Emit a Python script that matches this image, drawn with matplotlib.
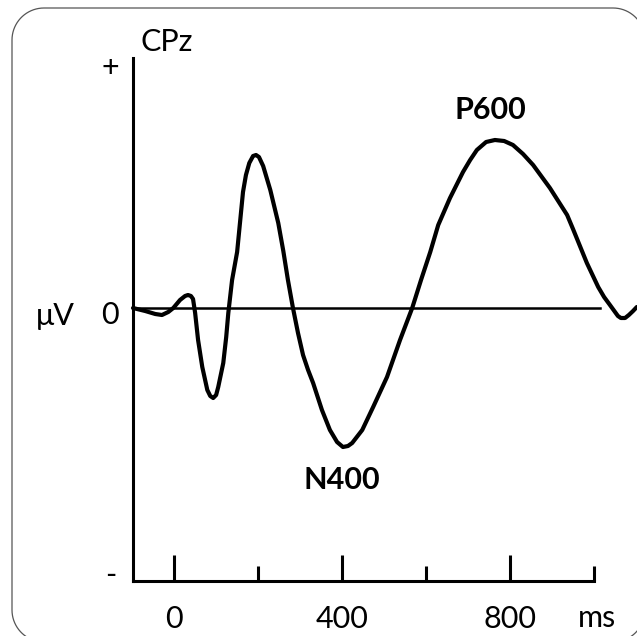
import matplotlib.pyplot as plt
import numpy as np
from matplotlib.lines import Line2D
from matplotlib.transforms import IdentityTransform

# ERP waveform at CPz (ms, microvolts)
time_ms = [-98, -69, -45, -29, -14, -2, 14, 26, 33, 40, 45, 50, 57, 67, 79, 86, 93,
           100, 105, 117, 124, 129, 138, 150, 157, 164, 171, 179, 188, 195, 202,
           212, 229, 248, 260, 271, 283, 295, 307, 319, 331, 352, 371, 388, 402,
           414, 424, 448, 474, 507, 538, 567, 588, 610, 629, 657, 688, 705, 721,
           743, 764, 786, 807, 831, 855, 895, 936, 950, 983, 1010, 1024, 1038,
           1057, 1064, 1074, 1083, 1093, 1102]
amp_uv = [0, -0.12, -0.24, -0.28, -0.16, 0, 0.32, 0.48, 0.52, 0.48, 0.36, -0.2,
          -1.28, -2.36, -3.28, -3.52, -3.6, -3.48, -3.16, -2.2, -1.16, -0.2, 1.12,
          2.24, 3.44, 4.64, 5.32, 5.8, 6.08, 6.12, 6.04, 5.68, 4.72, 3.4, 2.28,
          1.12, 0, -1.0, -1.88, -2.48, -3.0, -4.08, -4.88, -5.36, -5.56, -5.52,
          -5.4, -4.88, -3.96, -2.76, -1.28, 0, 1.12, 2.24, 3.32, 4.4, 5.44, 5.92,
          6.32, 6.64, 6.72, 6.68, 6.52, 6.16, 5.72, 4.8, 3.72, 3.16, 1.8, 0.84,
          0.44, 0.12, -0.32, -0.4, -0.4, -0.28, -0.12, 0.04]
major_ticks = [0, 400, 800]
major_labels = ['0', '400', '800']
minor_ticks = [200, 600, 1000]
peaks = {'N400': (402, -5.56), 'P600': (764, 6.72)}

plt.rcParams['font.family'] = ['Lato', 'DejaVu Sans']
fsize = 22

fig = plt.figure(figsize=(6.37, 6.36), dpi=100)
ax = fig.add_axes([133 / 637, 1 - 581 / 636, 461 / 637, 523 / 636])

# rounded frame around the whole panel, in pixels (partly off the canvas)
x0, x1, y0, y1, r = 12, 645, -6, 628, 32
fx, fy = [], []
for cx, cy, a0 in [(x1 - r, y1 - r, 0), (x0 + r, y1 - r, 90),
                   (x0 + r, y0 + r, 180), (x1 - r, y0 + r, 270)]:
    ang = np.radians(np.linspace(a0, a0 + 90, 20))
    fx += list(cx + r * np.cos(ang))
    fy += list(cy + r * np.sin(ang))
fx.append(fx[0])
fy.append(fy[0])
fig.add_artist(Line2D(fx, fy, transform=IdentityTransform(),
                      color='#555555', lw=0.9))

ax.plot([-98, 1014], [0, 0], color='black', lw=1.8, clip_on=False)
ax.plot(time_ms, amp_uv, color='black', lw=3.0, solid_joinstyle='round',
        solid_capstyle='round', clip_on=False)

ax.set_xlim(-98, 1000)
ax.set_ylim(-10.92, 10)
for s in ['top', 'right']:
    ax.spines[s].set_visible(False)
for s in ['left', 'bottom']:
    ax.spines[s].set_linewidth(2.2)

ax.set_xticks(major_ticks)
ax.set_xticklabels(major_labels, fontsize=fsize)
ax.set_xticks(minor_ticks, minor=True)
ax.tick_params(axis='x', which='major', direction='in', length=19, width=2.2, pad=17)
ax.tick_params(axis='x', which='minor', direction='in', length=10.5, width=2.2)
ax.set_yticks([])

ax.text(1007, -12.4, 'ms', fontsize=fsize, ha='center', va='center', clip_on=False)
ax.text(-153, 9.6, '+', fontsize=fsize, ha='center', va='center', clip_on=False)
ax.text(-153, -0.3, '0', fontsize=fsize, ha='center', va='center', clip_on=False)
ax.text(-150, -10.7, '-', fontsize=fsize, ha='center', va='center', clip_on=False)
ax.text(-283, -0.3, 'μV', fontsize=fsize, ha='center', va='center', clip_on=False)
ax.text(-17, 10.65, 'CPz', fontsize=fsize, ha='center', va='center', clip_on=False)

ax.text(peaks['N400'][0] - 2, peaks['N400'][1] - 0.75, 'N400', fontsize=fsize,
        fontweight='bold', ha='center', va='top')
ax.text(peaks['P600'][0] - 12, peaks['P600'][1] + 0.65, 'P600', fontsize=fsize,
        fontweight='bold', ha='center', va='bottom')

fig.savefig('out.png', dpi=100)
